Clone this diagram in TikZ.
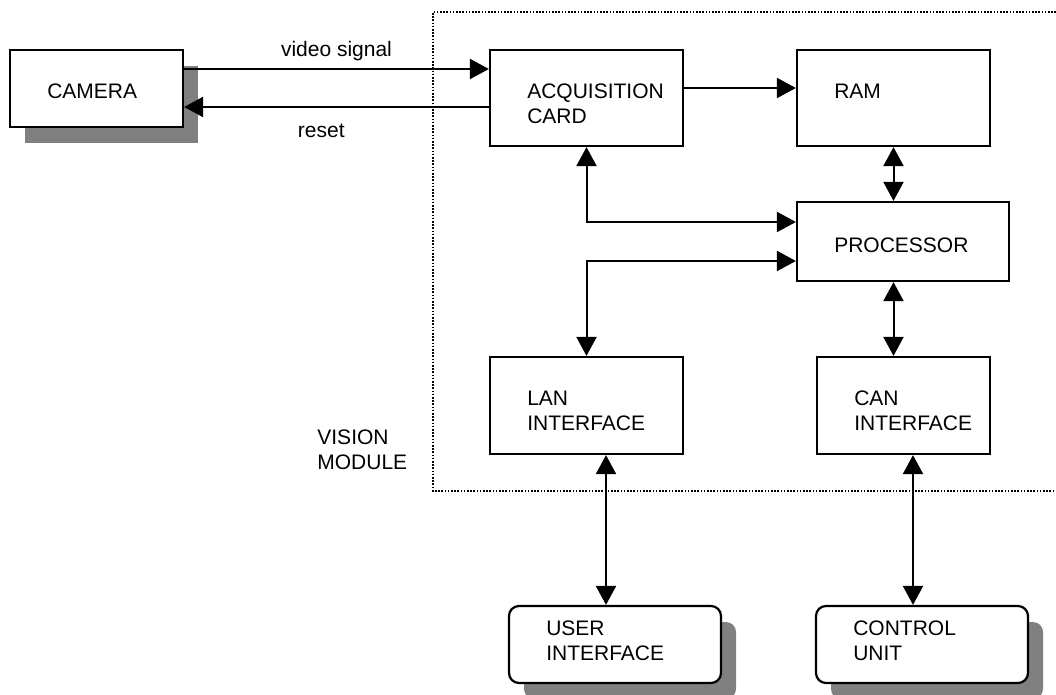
\documentclass[tikz,border=0pt]{standalone}
\usepackage{fontspec}
\setmainfont{Liberation Sans}
\usetikzlibrary{arrows.meta}
\usetikzlibrary{shadows}

\begin{document}
\begin{tikzpicture}[x=0.5pt, y=-0.5pt, font=\fontsize{10.5}{12.5}\selectfont]
    \tikzset{block/.style={draw, line width=1.1pt, fill=white, inner sep=0pt}}
    \tikzset{shadowed/.style={drop shadow={shadow xshift=7.5pt, shadow yshift=-8pt, fill=gray, opacity=1}}}
    \tikzset{tag/.style={anchor=north west, align=left, inner sep=0pt, xshift=19pt, yshift=#1}, tag/.default=-17.5pt}
    \tikzset{link/.style={line width=1pt, >={Triangle[length=9.5pt, width=10pt]}}}
    \useasboundingbox (0, 0) rectangle (1056, 695);
    % vision module outline
    \draw[line width=0.8pt, dash pattern=on 0.8pt off 0.8pt] (1056, 12) -- (433, 12) -- (433, 491) -- (1056, 491);
    \node[anchor=north west, align=left, inner sep=0pt] (vision) at (317, 429.5) {VISION\\MODULE};
    % blocks
    \node[block, shadowed, minimum width=86.5pt, minimum height=38.5pt, label={[tag]north west:CAMERA}] (camera) at (96.5, 88.5) {};
    \node[block, minimum width=96.5pt, minimum height=48pt, label={[tag]north west:{ACQUISITION\\CARD}}] (acq) at (586.5, 98) {};
    \node[block, minimum width=96.5pt, minimum height=48pt, label={[tag]north west:RAM}] (ram) at (893.5, 98) {};
    \node[block, minimum width=106pt, minimum height=39.5pt, label={[tag=-18.5pt]north west:PROCESSOR}] (proc) at (903, 241.5) {};
    \node[block, minimum width=96.5pt, minimum height=48.5pt, label={[tag]north west:{LAN\\INTERFACE}}] (lan) at (586.5, 405.5) {};
    \node[block, minimum width=86.5pt, minimum height=48.5pt, label={[tag]north west:{CAN\\INTERFACE}}] (can) at (903.5, 405.5) {};
    \node[block, shadowed, rounded corners=5pt, minimum width=106pt, minimum height=38.5pt, label={[tag=-7.75pt]north west:{USER\\INTERFACE}}] (user) at (615, 644.5) {};
    \node[block, shadowed, rounded corners=5pt, minimum width=106pt, minimum height=38.5pt, label={[tag=-7.75pt]north west:{CONTROL\\UNIT}}] (ctrl) at (922, 644.5) {};
    % connections
    \draw[link, ->] ([yshift=9.75pt]camera.east) -- ([yshift=14.5pt]acq.west) node[midway, above] (vid) {video signal};
    \draw[link, ->] ([yshift=-4.5pt]acq.west) -- ([yshift=-9.25pt]camera.east) node[pos=0.55, anchor=base, yshift=-15.25pt] (rst) {reset};
    \draw[link, ->] ([yshift=5pt]acq.east) -- ([yshift=5pt]ram.west);
    \draw[link, <->] (ram.south) -- (ram.south |- proc.north);
    \draw[link, <->] (ram.south |- proc.south) -- (ram.south |- can.north);
    \draw[link, <->] (acq.south) |- ([yshift=9.75pt]proc.west);
    \draw[link, <->] ([yshift=-9.75pt]proc.west) -| (lan.north);
    \draw[link, <->] ([xshift=9.75pt]lan.south) -- ([xshift=-4.5pt]user.north);
    \draw[link, <->] ([xshift=4.75pt]can.south) -- ([xshift=-4.5pt]ctrl.north);
\end{tikzpicture}
\end{document}
